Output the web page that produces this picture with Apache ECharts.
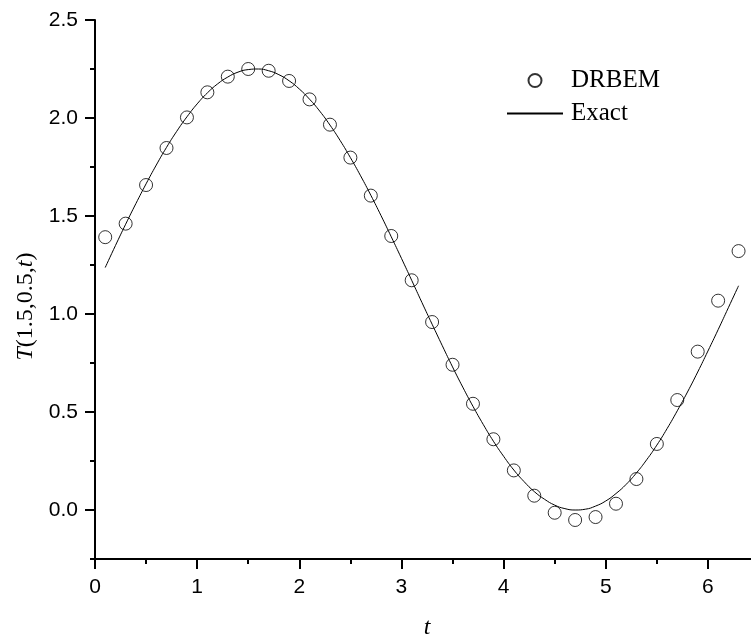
<!DOCTYPE html>
<html>
<head>
<meta charset="utf-8">
<script src="https://cdn.jsdelivr.net/npm/echarts@6/dist/echarts.min.js"></script>
<style>html,body{margin:0;padding:0;background:#fff;}#chart{width:751px;height:637px;}</style>
</head>
<body>
<div id="chart"></div>
<script>
// DRBEM numerical solution (circles)
const drbemT = [0.1,0.3,0.5,0.7,0.9,1.1,1.3,1.5,1.7,1.9,2.1,2.3,2.5,2.7,2.9,3.1,3.3,3.5,3.7,3.9,4.1,4.3,4.5,4.7,4.9,5.1,5.3,5.5,5.7,5.9,6.1,6.3];
const drbemValues = [1.392,1.461,1.658,1.847,2.003,2.131,2.211,2.250,2.241,2.189,2.095,1.966,1.798,1.604,1.398,1.172,0.959,0.741,0.542,0.361,0.202,0.073,-0.014,-0.051,-0.036,0.032,0.158,0.337,0.561,0.808,1.068,1.321];

// Exact solution (solid line)
const exactT = [0.1,0.2,0.3,0.4,0.5,0.6,0.7,0.8,0.9,1.0,1.1,1.2,1.3,1.4,1.5,1.6,1.7,1.8,1.9,2.0,2.1,2.2,2.3,2.4,2.5,2.6,2.7,2.8,2.9,3.0,3.1,3.2,3.3,3.4,3.5,3.6,3.7,3.8,3.9,4.0,4.1,4.2,4.3,4.4,4.5,4.6,4.7,4.8,4.9,5.0,5.1,5.2,5.3,5.4,5.5,5.6,5.7,5.8,5.9,6.0,6.1,6.2,6.3];
const exactValues = [1.237,1.349,1.458,1.563,1.664,1.760,1.850,1.932,2.006,2.072,2.128,2.174,2.209,2.234,2.247,2.250,2.241,2.221,2.190,2.148,2.096,2.035,1.964,1.885,1.798,1.705,1.606,1.502,1.394,1.284,1.172,1.059,0.948,0.838,0.730,0.627,0.529,0.437,0.351,0.274,0.204,0.145,0.094,0.055,0.025,0.007,0.000,0.004,0.020,0.046,0.084,0.131,0.189,0.256,0.331,0.415,0.506,0.602,0.704,0.811,0.920,1.032,1.144];

// Tick labels
const xTickLabels = [0,1,2,3,4,5,6];
const yTickLabels = [0.0,0.5,1.0,1.5,2.0,2.5];

const seriesNames = ['DRBEM','Exact'];

const chart = echarts.init(document.getElementById('chart'), null, {renderer:'canvas'});
const sansFont = 'Liberation Sans';
const serifFont = 'Liberation Serif';
const axisLine = {show:true, onZero:false, lineStyle:{color:'#000', width:2}};

chart.setOption({
  animation:false,
  backgroundColor:'#fff',
  grid:{left:95, top:20, bottom:78, width:664, containLabel:false, outerBoundsMode:'none'},
  legend:{
    data:[seriesNames[0], {name:seriesNames[1], itemStyle:{opacity:0}}],
    orient:'vertical',
    left:501, top:63,
    itemWidth:56, itemHeight:13, itemGap:8,
    textStyle:{fontFamily:serifFont, fontSize:25, color:'#000', padding:[0,0,0,3]}
  },
  xAxis:[
    {type:'value', min:0, max:6.5, interval:0.5, position:'bottom',
     axisLine:axisLine, axisTick:{show:true, length:5, lineStyle:{color:'#000', width:2}},
     axisLabel:{show:false}, splitLine:{show:false}},
    {type:'value', min:0, max:6.5, interval:1, position:'bottom',
     axisLine:{show:false, onZero:false},
     axisTick:{show:true, length:10, customValues:xTickLabels, lineStyle:{color:'#000', width:2}},
     axisLabel:{show:true, customValues:xTickLabels, margin:18, fontFamily:sansFont, fontSize:21, color:'#000'},
     splitLine:{show:false},
     name:'t', nameLocation:'middle', nameGap:57,
     nameTextStyle:{fontFamily:serifFont, fontStyle:'italic', fontSize:24, color:'#000'}}
  ],
  yAxis:[
    {type:'value', min:-0.25, max:2.5, interval:0.25, position:'left',
     axisLine:axisLine, axisTick:{show:true, length:5, lineStyle:{color:'#000', width:2}},
     axisLabel:{show:false}, splitLine:{show:false}},
    {type:'value', min:-0.25, max:2.5, position:'left',
     axisLine:{show:false, onZero:false},
     axisTick:{show:true, length:10, customValues:yTickLabels, lineStyle:{color:'#000', width:2}},
     axisLabel:{show:true, customValues:yTickLabels, margin:17, fontFamily:sansFont, fontSize:21, color:'#000',
       formatter:function(v){return Number(v).toFixed(1);}},
     splitLine:{show:false},
     name:'{i|T}{n|(1.5,0.5,}{i|t}{n|)}', nameLocation:'middle', nameGap:56, nameRotate:90,
     nameTextStyle:{color:'#000', padding:[0,34,0,0],
       rich:{i:{fontFamily:serifFont, fontStyle:'italic', fontSize:24, color:'#000'},
             n:{fontFamily:serifFont, fontSize:24, color:'#000'}}}}
  ],
  series:[
    {name:seriesNames[0], type:'scatter', xAxisIndex:0, yAxisIndex:0,
     data:drbemT.map((t,i)=>[t, drbemValues[i]]),
     symbol:'circle', symbolSize:13, z:3,
     itemStyle:{color:'rgba(0,0,0,0)', borderColor:'#000', borderWidth:1}},
    {name:seriesNames[1], type:'line', xAxisIndex:0, yAxisIndex:0,
     data:exactT.map((t,i)=>[t, exactValues[i]]),
     symbol:'none', showSymbol:false, smooth:true, z:2,
     lineStyle:{color:'#000', width:1}, itemStyle:{color:'#000'}}
  ]
});
</script>
</body>
</html>
